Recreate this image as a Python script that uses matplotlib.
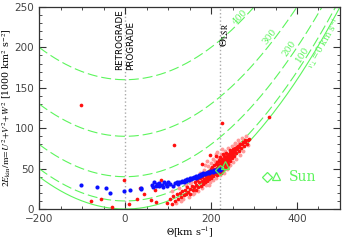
import numpy as np
import matplotlib
matplotlib.use("Agg")
import matplotlib.pyplot as plt
from matplotlib.ticker import MultipleLocator

plt.rcParams['mathtext.fontset'] = 'stix'
plt.rcParams['font.family'] = ['DejaVu Sans']

# curves of constant v_perp [km/s]
vperp_levels = [0, 100, 200, 300, 400]
vperp_labels = ['$v_\\perp$=0 km s$^{-1}$', '100', '200', '300', '400']
label_theta = [465, 414, 381, 337, 267]
label_y = [204, 191, 199, 213, 238]
label_rot = [60, 57, 55, 52, 45]

theta_lsr = 220

# red stars (theta, 2E/m)
red_theta = [98, 104, 108, 112, 116, 120, 124, 127, 130, 133, 136, 139, 142, 145, 147,
             150, 152, 155, 157, 160, 162, 164, 166, 168, 170, 172, 174, 176, 178, 180,
             181, 183, 185, 186, 188, 190, 191, 193, 195, 196, 198, 199, 200, 202, 203,
             204, 206, 207, 208, 210, 211, 212, 213, 214, 215, 216, 217, 218, 219, 220,
             221, 222, 223, 224, 225, 226, 227, 228, 229, 230, 231, 232, 233, 234, 235,
             236, 237, 238, 240, 241, 242, 243, 245, 246, 247, 249, 250, 252, 253, 255,
             256, 258, 260, 262, 264, 266, 268, 270, 272, 274, 276, 278, 280, 283, 285,
             288,
             205, 209, 213, 217, 221, 225, 229, 233, 237, 241, 245, 249, 253, 257, 261,
             196, 201, 206, 211, 216, 221, 226, 231, 236, 239, 244, 248, 252, 186, 191,
             -102, 114, 225, 335, 198, 178, 212, 83, 44, 27, 60, 70, 72, -80, -56, -30,
             -3, 9, 35]
red_y = [8, 13, 6, 16, 10, 18, 12, 20, 15, 22, 17, 24, 19, 27, 21,
         25, 18, 29, 23, 27, 33, 24, 30, 36, 27, 33, 38, 29, 35, 40,
         31, 37, 42, 33, 39, 44, 35, 41, 47, 37, 43, 50, 39, 45, 52,
         41, 47, 54, 43, 49, 56, 45, 51, 58, 42, 48, 54, 61, 46, 52,
         58, 64, 44, 50, 56, 62, 68, 48, 54, 60, 66, 51, 57, 63, 69,
         53, 59, 65, 56, 62, 68, 73, 60, 66, 71, 63, 69, 74, 66, 71,
         76, 69, 74, 78, 72, 77, 80, 75, 80, 83, 78, 83, 86, 81, 85,
         87,
         45, 46, 50, 52, 55, 58, 59, 62, 64, 66, 69, 71, 73, 75, 77,
         38, 41, 44, 47, 50, 53, 56, 58, 61, 63, 65, 67, 70, 34, 37,
         129, 79, 107, 114, 67, 56, 65, 36, 19, 12, 11, 23, 9, 9.5, 12, 3,
         36, 6, 26]

# lighter red points around the band
pink_theta = [110, 118, 126, 134, 141, 148, 154, 159, 165, 169, 175, 179, 184, 189,
              194, 197, 201, 205, 209, 212, 217, 221, 224, 229, 232, 237, 240, 244,
              248, 251, 256, 259, 263, 267, 271, 275, 281, 286, 190, 205, 185, 170,
              215, 230, 245, 195, 160, 150, 255, 265, 240, 226, 212, 200, 180, 130]
pink_y = [22, 8, 26, 12, 30, 15, 34, 19, 38, 22, 44, 26, 48, 30,
          53, 33, 57, 36, 60, 39, 64, 42, 68, 45, 72, 50, 75, 54,
          78, 58, 82, 62, 85, 67, 88, 72, 90, 79, 60, 62, 55, 40,
          70, 64, 72, 30, 20, 32, 80, 82, 52, 74, 68, 51, 45, 10]

# blue points
blue_theta = [-103, -66, -44, -35, -3, 12, 36, 38, 63, 66, 68, 72, 75, 78, 80, 85, 88,
              90, 95, 98, 100, 104, 112, 116, 120, 124, 126, 130, 133, 136, 139, 142,
              145, 148, 150, 153, 156, 158, 161, 164, 166, 169, 172, 174, 177, 180, 182,
              185, 188, 190, 193, 196, 198, 201, 204, 206, 209, 212, 214, 217, 220, 223]
blue_y = [30, 27, 26, 20, 22, 24, 26, 25, 30, 27, 33, 29, 31, 28, 32, 30, 27,
          33, 31, 29, 33, 31, 28, 32, 33, 31, 34, 33, 35, 34, 36, 35,
          37, 36, 38, 37, 39, 38, 40, 39, 41, 40, 42, 41, 43, 42, 44,
          43, 45, 44, 46, 45, 46, 47, 46, 48, 47, 48, 47, 49, 48, 49]

sun_theta = [220, 232]
sun_y = [48.4, 54]

green = '#5cf55c'

fig = plt.figure(figsize=(3.59, 2.40), dpi=100)
ax = fig.add_axes([0.109, 0.129, 0.838, 0.842])

th = np.linspace(-200, 500, 400)
for lev in vperp_levels:
    ls = '-' if lev == 0 else (0, (9, 3.5))
    ax.plot(th, (th**2 + lev**2) / 1000.0, color=green, lw=0.8, ls=ls, zorder=2)
for txt, tx, ty, rot in zip(vperp_labels, label_theta, label_y, label_rot):
    ax.text(tx, ty, txt, color=green, fontsize=6.5, rotation=rot,
            ha='center', va='center', family='DejaVu Serif')

ax.axvline(0, color='#aaaaaa', ls=':', lw=1, zorder=1)
ax.axvline(theta_lsr, color='#aaaaaa', ls=':', lw=1, zorder=1)

ax.scatter(pink_theta, pink_y, s=8, color='#ff9a9a', lw=0, zorder=3)
ax.scatter(red_theta, red_y, s=7, color='#ff1010', lw=0, zorder=4)
ax.scatter(blue_theta, blue_y, s=9, color='#0a10ff', lw=0, zorder=5)
ax.plot(sun_theta[0], sun_y[0], 'D', mfc='none', mec=green, ms=5, mew=0.9, zorder=6)
ax.plot(sun_theta[1], sun_y[1], '^', mfc='none', mec=green, ms=6, mew=0.9, zorder=6)

# legend for the Sun
ax.plot(330, 40, 'D', mfc='none', mec=green, ms=5, mew=0.9)
ax.plot(352, 41, '^', mfc='none', mec=green, ms=6, mew=0.9)
ax.text(382, 40, 'Sun', color=green, fontsize=10, family='DejaVu Serif', va='center')

ax.text(-2, 172, 'RETROGRADE', rotation=90, ha='right', va='bottom', fontsize=6.3)
ax.text(3, 172, 'PROGRADE', rotation=90, ha='left', va='bottom', fontsize=6.3)
ax.text(217, 200, r'$\Theta_{\rm LSR}$', rotation=90, ha='left', va='bottom', fontsize=8)

ax.set_xlim(-200, 500)
ax.set_ylim(0, 250)
ax.xaxis.set_major_locator(MultipleLocator(200))
ax.xaxis.set_minor_locator(MultipleLocator(50))
ax.yaxis.set_major_locator(MultipleLocator(50))
ax.yaxis.set_minor_locator(MultipleLocator(10))
ax.tick_params(which='both', direction='in', top=True, right=True, labelsize=7.5,
               colors='#333333', labelcolor='#444444')
ax.tick_params(which='major', length=5, width=0.8)
ax.tick_params(which='minor', length=2.5, width=0.6)
for sp in ax.spines.values():
    sp.set_color('#333333')
    sp.set_linewidth(0.9)

ax.set_xlabel(r'$\Theta$[km s$^{-1}$]', fontsize=7, family='DejaVu Serif', labelpad=1)
ax.set_ylabel(r'$2E_{\rm kin}/{\rm m}\!=\!U^2\!+\!V^2\!+\!W^2$ [1000 km$^2$ s$^{-2}$]',
              fontsize=6.8, family='DejaVu Serif', labelpad=1)

fig.savefig('out.png', dpi=100)
